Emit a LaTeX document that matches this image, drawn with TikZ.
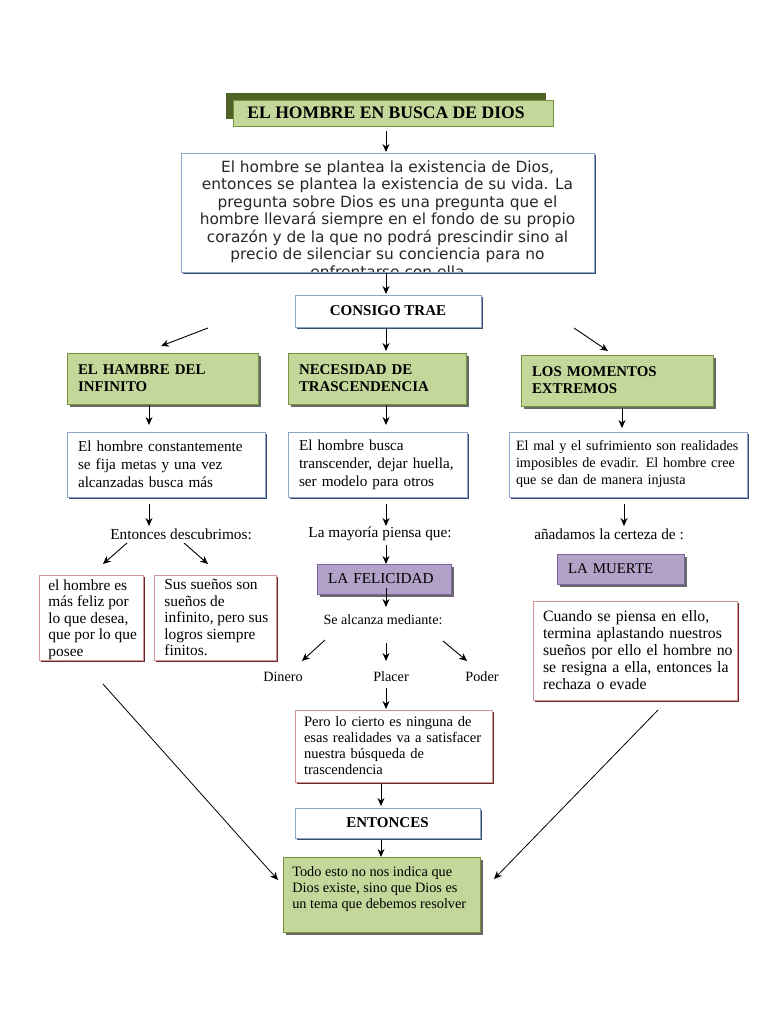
\documentclass[tikz,border=0pt]{standalone}
\usepackage{fontspec}
\setmainfont{Liberation Serif}
\newfontfamily\verd{DejaVu Sans}
\usetikzlibrary{shadows,arrows.meta}
\definecolor{gfill}{RGB}{196,215,155}
\definecolor{gbord}{RGB}{118,146,60}
\definecolor{tdark}{RGB}{79,98,40}
\definecolor{bbord}{RGB}{140,165,205}
\definecolor{bshad}{RGB}{60,78,112}
\definecolor{pbord}{RGB}{210,150,150}
\definecolor{pshad}{RGB}{105,40,40}
\definecolor{vfill}{RGB}{179,162,199}
\definecolor{vbord}{RGB}{128,100,162}
\definecolor{gshad}{RGB}{105,105,105}
\definecolor{mtext}{RGB}{40,40,40}
\begin{document}
\begin{tikzpicture}[x=1pt,y=-1pt,
  arr/.style={draw=black, line width=0.9pt, -{Stealth[length=8pt,width=7pt]}},
  titlebox/.style={rectangle, fill=gfill, draw=gbord, line width=0.6pt, inner sep=0pt,
    font=\bfseries\fontsize{17.6}{20}\selectfont,
    drop shadow={shadow xshift=-7pt, shadow yshift=7pt, fill=tdark, opacity=1}},
  wbox/.style={rectangle, fill=white, draw=bbord, line width=0.8pt, inner sep=0pt,
    drop shadow={shadow xshift=2pt, shadow yshift=-2pt, fill=bshad, opacity=1}},
  hbox/.style={rectangle, fill=gfill, draw=gbord, line width=0.6pt, inner xsep=11pt, inner ysep=0pt,
    align=left, font=\bfseries\fontsize{14.9}{17}\selectfont,
    drop shadow={shadow xshift=3pt, shadow yshift=-3pt, fill=gshad, opacity=1}},
  tbox/.style={rectangle, fill=white, draw=bbord, line width=0.8pt, inner xsep=11pt, inner ysep=0pt,
    align=left, font=\fontsize{15.2}{18}\selectfont,
    drop shadow={shadow xshift=2pt, shadow yshift=-2pt, fill=bshad, opacity=1}},
  pbox/.style={rectangle, fill=white, draw=pbord, line width=0.8pt, inner xsep=10pt, inner ysep=0pt,
    align=left, font=\fontsize{15.4}{17}\selectfont,
    drop shadow={shadow xshift=2pt, shadow yshift=-2pt, fill=pshad, opacity=1}},
  vbox/.style={rectangle, fill=vfill, draw=vbord, line width=0.6pt, inner xsep=11pt, inner ysep=0pt,
    align=left, font=\fontsize{15.2}{16}\selectfont,
    drop shadow={shadow xshift=3pt, shadow yshift=-3pt, fill=gshad, opacity=1}},
  ptext/.style={inner sep=0pt, font=\fontsize{15.3}{16}\selectfont},
  cliptext/.style={anchor=north west, inner sep=0pt, align=left, minimum width=0pt, minimum height=0pt}
]
\useasboundingbox[fill=white] (0,0) rectangle (768,1024);

% title
\node[titlebox, minimum width=320pt, minimum height=26pt] (title) at (393,113) {EL HOMBRE EN BUSCA DE DIOS\hspace*{14pt}};

% main box
\node[wbox, minimum width=413pt, minimum height=119pt,
  path picture={\node[anchor=north, inner sep=0pt, minimum width=0pt, minimum height=0pt, align=center, text=mtext, font=\verd\fontsize{15.4}{17.5}\selectfont]
    at ([yshift=-7pt]path picture bounding box.north) {El hombre se plantea la existencia de Dios,\\ entonces se plantea la existencia de su vida. La\\ pregunta sobre Dios es una pregunta que el\\ hombre llevará siempre en el fondo de su propio\\ corazón y de la que no podrá prescindir sino al\\ precio de silenciar su conciencia para no\\ enfrentarse con ella};}] (main) at (387.5,212.5) {};

% consigo trae
\node[wbox, minimum width=186pt, minimum height=32pt, font=\bfseries\fontsize{15}{16}\selectfont] (consigo) at (388,311) {CONSIGO TRAE};

% headers
\node[hbox, text width=169pt, minimum height=51pt] (hA) at (162.5,378.5) {EL HAMBRE DEL\\ INFINITO};
\node[hbox, text width=156pt, minimum height=51pt] (hB) at (377,378.5) {NECESIDAD DE\\ TRASCENDENCIA};
\node[hbox, text width=170pt, minimum height=51pt] (hC) at (617,380.5) {LOS MOMENTOS\\ EXTREMOS};

% text boxes
\node[tbox, text width=176pt, minimum height=65pt] (tA) at (166,464.5) {El hombre constantemente\\ se fija metas y una vez\\ alcanzadas busca más};
\node[tbox, text width=157pt, minimum height=65pt] (tB) at (377.5,464.5) {El hombre busca\\ transcender, dejar huella,\\ ser modelo para otros};
\node[tbox, text width=224pt, minimum height=65pt, inner xsep=7pt, font=\fontsize{14.2}{17}\selectfont] (tC) at (628,464.5) {\mbox{El mal y el sufrimiento son realidades}\\ \mbox{imposibles de evadir. El hombre cree}\\ \mbox{que se dan de manera injusta}};

% plain texts
\node[ptext] (desc) at (181,534) {Entonces descubrimos:};
\node[ptext] (may) at (380,534) {La mayoría piensa que:};
\node[ptext] (anad) at (609,534) {añadamos la certeza de :};

% pink boxes
\node[pbox, minimum width=104pt, minimum height=85pt,
  path picture={\node[cliptext, font=\fontsize{15.4}{16.5}\selectfont] at ([xshift=9pt,yshift=-4pt]path picture bounding box.north west) {el hombre es\\ más feliz por\\ lo que desea,\\ que por lo que\\ posee};}] (pA) at (91,617.5) {};
\node[pbox, minimum width=122pt, minimum height=85pt,
  path picture={\node[cliptext, font=\fontsize{15.4}{16.5}\selectfont] at ([xshift=10pt,yshift=-4pt]path picture bounding box.north west) {Sus sueños son\\ sueños de\\ infinito, pero sus\\ logros siempre\\ finitos.};}] (pB) at (215,617.5) {};

% purple
\node[vbox, text width=112pt, minimum height=30pt] (fel) at (384,579) {LA FELICIDAD};
\node[vbox, text width=105pt, minimum height=30pt, font=\fontsize{14.9}{16}\selectfont] (muerte) at (620.5,569) {LA MUERTE};

\node[pbox, text width=184pt, minimum height=99pt, font=\fontsize{15.8}{17}\selectfont] (pC) at (635,650.5) {\mbox{Cuando se piensa en ello,}\\ \mbox{termina aplastando nuestros}\\ \mbox{sueños por ello el hombre no}\\ \mbox{se resigna a ella, entonces la}\\ \mbox{rechaza o evade}};

\node[ptext, font=\fontsize{14.1}{16}\selectfont] (alc) at (383,620) {Se alcanza mediante:};
\node[ptext, font=\fontsize{14.2}{16}\selectfont] (din) at (283,677) {Dinero};
\node[ptext, font=\fontsize{14.2}{16}\selectfont] (pla) at (391,677) {Placer};
\node[ptext, font=\fontsize{14.2}{16}\selectfont] (pod) at (482,677) {Poder};

\node[pbox, text width=179pt, minimum height=72pt, inner xsep=9pt, font=\fontsize{14.5}{16}\selectfont] (pD) at (393.5,746) {\mbox{Pero lo cierto es ninguna de}\\ \mbox{esas realidades va a satisfacer}\\ nuestra búsqueda de\\ trascendencia};

\node[wbox, minimum width=185pt, minimum height=30pt, font=\bfseries\fontsize{15}{16}\selectfont] (ent) at (387.5,823) {ENTONCES};

\node[hbox, minimum width=197pt, minimum height=75pt, drop shadow={shadow xshift=0pt, shadow yshift=0pt, opacity=0},
  path picture={\node[cliptext, font=\fontsize{14.3}{16}\selectfont] at ([xshift=9pt,yshift=-9pt]path picture bounding box.north west) {Todo esto no nos indica que\\ Dios existe, sino que Dios es\\ un tema que debemos resolver};}] (fin) at (381.5,894.5) {};

% connector end points
\coordinate (c1) at (208,328); \coordinate (c2) at (161,346);
\coordinate (c3) at (574,328); \coordinate (c4) at (608,351);
\coordinate (d1) at (127,543); \coordinate (d2) at (103,564);
\coordinate (d3) at (184,543); \coordinate (d4) at (208,564);
\coordinate (a1) at (325,640); \coordinate (a2) at (302,661);
\coordinate (a3) at (443,641); \coordinate (a4) at (467,661);
\coordinate (e1) at (103,684); \coordinate (e2) at (278,880);
\coordinate (e3) at (658,710); \coordinate (e4) at (494,879);

% connectors
\draw[arr] (386,131) -- (386,152);
\draw[arr] (386,273) -- (386,294);
\draw[arr] (c1) -- (c2);
\draw[arr] (386,328) -- (386,351);
\draw[arr] (c3) -- (c4);
\draw[arr] (149,405) -- (149,425);
\draw[arr] (386,405) -- (386,425);
\draw[arr] (622,408) -- (622,428);
\draw[arr] (149,504) -- (149,526);
\draw[arr] (386,504) -- (386,526);
\draw[arr] (624,504) -- (624,526);
\draw[arr] (d1) -- (d2);
\draw[arr] (d3) -- (d4);
\draw[arr] (386,545) -- (386,564);
\draw[arr] (386,588) -- (386,607);
\draw[arr] (a1) -- (a2);
\draw[arr] (386,643) -- (386,661);
\draw[arr] (a3) -- (a4);
\draw[arr] (386,688) -- (386,709);
\draw[arr] (381,784) -- (381,806);
\draw[arr] (381,840) -- (381,857);
\draw[arr, line width=0.8pt] (e1) -- (e2);
\draw[arr, line width=0.8pt] (e3) -- (e4);
\end{tikzpicture}
\end{document}
